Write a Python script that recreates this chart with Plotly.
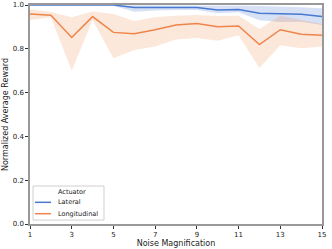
import plotly.graph_objects as go

x = list(range(1, 16))
lat_mean = [1.0, 1.0, 1.0, 1.0, 1.0, 0.989, 0.99, 0.99, 0.989, 0.977, 0.979, 0.962, 0.959, 0.958, 0.947]
lat_low = [1.0, 1.0, 1.0, 1.0, 0.997, 0.969, 0.975, 0.977, 0.977, 0.962, 0.967, 0.93, 0.922, 0.924, 0.909]
lat_high = [1.0, 1.0, 1.0, 1.0, 1.0, 1.0, 1.0, 1.0, 1.0, 0.997, 0.997, 0.995, 0.993, 0.99, 0.985]
lon_mean = [0.959, 0.953, 0.852, 0.947, 0.875, 0.869, 0.887, 0.909, 0.916, 0.901, 0.904, 0.819, 0.887, 0.866, 0.862]
lon_low = [0.932, 0.944, 0.700, 0.932, 0.757, 0.795, 0.81, 0.843, 0.849, 0.837, 0.862, 0.712, 0.816, 0.802, 0.81]
lon_high = [0.98, 0.968, 0.944, 0.97, 0.959, 0.927, 0.944, 0.951, 0.954, 0.95, 0.951, 0.89, 0.951, 0.932, 0.913]
series_names = ["Lateral", "Longitudinal"]
legend_title = "Actuator"

BLUE = "#4878d0"
ORANGE = "#ee854a"

fig = go.Figure()
for name, m, lo, hi, c, fc in [
    (series_names[0], lat_mean, lat_low, lat_high, BLUE, "rgba(72,120,208,0.22)"),
    (series_names[1], lon_mean, lon_low, lon_high, ORANGE, "rgba(238,133,74,0.2)"),
]:
    fig.add_trace(go.Scatter(x=x, y=hi, mode="lines", line=dict(width=0), showlegend=False, hoverinfo="skip"))
    fig.add_trace(go.Scatter(x=x, y=lo, mode="lines", line=dict(width=0), fill="tonexty",
                             fillcolor=fc, showlegend=False, hoverinfo="skip"))
    fig.add_trace(go.Scatter(x=x, y=m, mode="lines", name=name, line=dict(color=c, width=1.5),
                             showlegend=False))

axis_common = dict(showline=True, linecolor="#999999", linewidth=1.5, mirror=True,
                   showgrid=False, zeroline=False, ticks="outside", ticklen=3,
                   tickcolor="#333333", tickfont=dict(size=7, color="#222222"),
                   automargin=False, ticklabeloverflow="allow")

# compact legend (matplotlib-style) drawn in paper coordinates
fig.add_shape(type="rect", xref="paper", yref="paper", x0=0.0103, x1=0.2534, y0=0.018, y1=0.1735,
              line=dict(color="#d0d0d0", width=1), fillcolor="rgba(255,255,255,0.8)", layer="above")
fig.add_annotation(xref="paper", yref="paper", x=0.1438, y=0.146, text=legend_title, showarrow=False,
                   font=dict(size=6.5, color="#222222"), xanchor="center", yanchor="middle")
for i, (nm, col) in enumerate(zip(series_names, [BLUE, ORANGE])):
    yy = [0.099, 0.047][i]
    fig.add_shape(type="line", xref="paper", yref="paper", x0=0.017, x1=0.072, y0=yy, y1=yy,
                  line=dict(color=col, width=1.5), layer="above")
    fig.add_annotation(xref="paper", yref="paper", x=0.089, y=yy, text=nm, showarrow=False,
                       font=dict(size=6.5, color="#222222"), xanchor="left", yanchor="middle")

fig.update_layout(
    width=332, height=249,
    margin=dict(l=30, r=10, t=5, b=25),
    paper_bgcolor="white", plot_bgcolor="white",
    font=dict(family="DejaVu Sans", color="#222222"),
    xaxis=dict(range=[1, 15], tickvals=[1, 3, 5, 7, 9, 11, 13, 15],
               title=dict(text="Noise Magnification", font=dict(size=8), standoff=0), **axis_common),
    yaxis=dict(range=[0, 1], tickvals=[0, 0.2, 0.4, 0.6, 0.8, 1.0], tickformat=".1f",
               title=dict(text="Normalized Average Reward", font=dict(size=8), standoff=3), **axis_common),
    showlegend=False,
)
fig.write_html("out.html", config={"displayModeBar": False},
               post_script="document.body.style.margin='0';document.body.style.overflow='hidden';")
